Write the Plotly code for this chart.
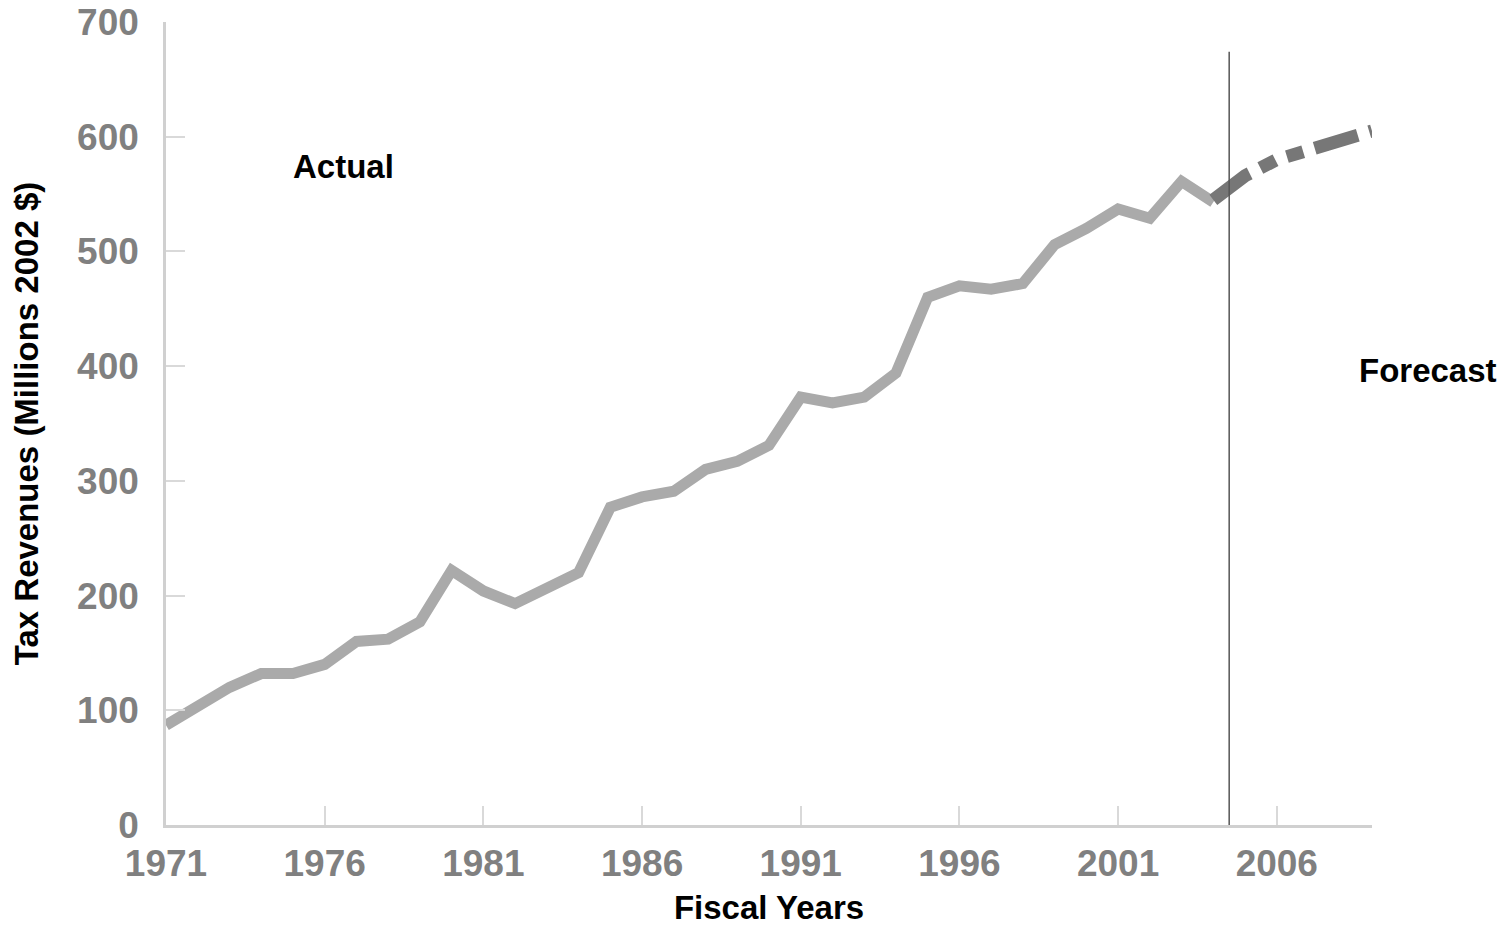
import plotly.graph_objects as go

actual_years = list(range(1971, 2005))
actual_values = [87, 104, 120, 132, 132, 140, 160, 162, 177, 222,
                 204, 193, 207, 220, 277, 286, 291, 310, 317, 331,
                 373, 368, 373, 394, 460, 470, 467, 472, 506, 520,
                 537, 529, 561, 543]

forecast_years = [2004, 2005, 2006, 2007, 2008, 2009]
forecast_values = [545, 566, 580, 588, 596, 605]

x_ticks = [1971, 1976, 1981, 1986, 1991, 1996, 2001, 2006]
y_ticks = [0, 100, 200, 300, 400, 500, 600, 700]
divider_year = 2004.5

FONT = "Liberation Sans, Arial, sans-serif"

fig = go.Figure()
fig.add_trace(go.Scatter(x=actual_years, y=actual_values, mode="lines",
                         line=dict(color="#aaaaaa", width=11),
                         showlegend=False, hoverinfo="skip"))
fig.add_trace(go.Scatter(x=forecast_years, y=forecast_values, mode="lines",
                         line=dict(color="#777777", width=13,
                                   dash="45px,12px,17px,12px,17px,12px"),
                         showlegend=False, hoverinfo="skip"))

fig.add_shape(type="line", x0=divider_year, x1=divider_year, y0=0, y1=674,
              xref="x", yref="y", line=dict(color="#555555", width=1.5), layer="above")

fig.add_annotation(x=1976.6, y=574, xref="x", yref="y", text="<b>Actual</b>",
                   showarrow=False, xanchor="center",
                   font=dict(family=FONT, size=33, color="black"))
fig.add_annotation(x=1.0464, y=396 / 700, xref="paper", yref="paper", text="<b>Forecast</b>",
                   showarrow=False, xanchor="center", yanchor="middle",
                   font=dict(family=FONT, size=33, color="black"))

fig.update_layout(
    width=1499, height=921,
    margin=dict(l=158, r=135, t=14, b=104),
    paper_bgcolor="white", plot_bgcolor="white",
    font=dict(family=FONT),
    xaxis=dict(range=[1971, 2009], tickvals=x_ticks, ticktext=[str(v) for v in x_ticks],
               automargin=False, ticklabeloverflow="allow",
               showgrid=False, zeroline=False, showline=True, linecolor="#d0d0d0", linewidth=2.5,
               ticks="inside", ticklen=19, tickcolor="#d9d9d9", tickwidth=1.5,
               tickfont=dict(family=FONT, size=37, color="#808080", weight="bold"),
               ticklabelstandoff=4,
               title=dict(text="<b>Fiscal Years</b>", font=dict(family=FONT, size=33, color="black"),
                          standoff=13)),
    yaxis=dict(range=[0, 700], tickvals=y_ticks,
               automargin=False, ticklabeloverflow="allow",
               showgrid=False, zeroline=False, showline=True, linecolor="#d0d0d0", linewidth=2.5,
               ticks="inside", ticklen=19, tickcolor="#d9d9d9", tickwidth=1.5,
               tickfont=dict(family=FONT, size=37, color="#808080", weight="bold"),
               ticklabelstandoff=17,
               title=dict(text="<b>Tax Revenues (Millions 2002 $)</b>",
                          font=dict(family=FONT, size=33, color="black"), standoff=32)),
)

fig.write_html("out.html")
